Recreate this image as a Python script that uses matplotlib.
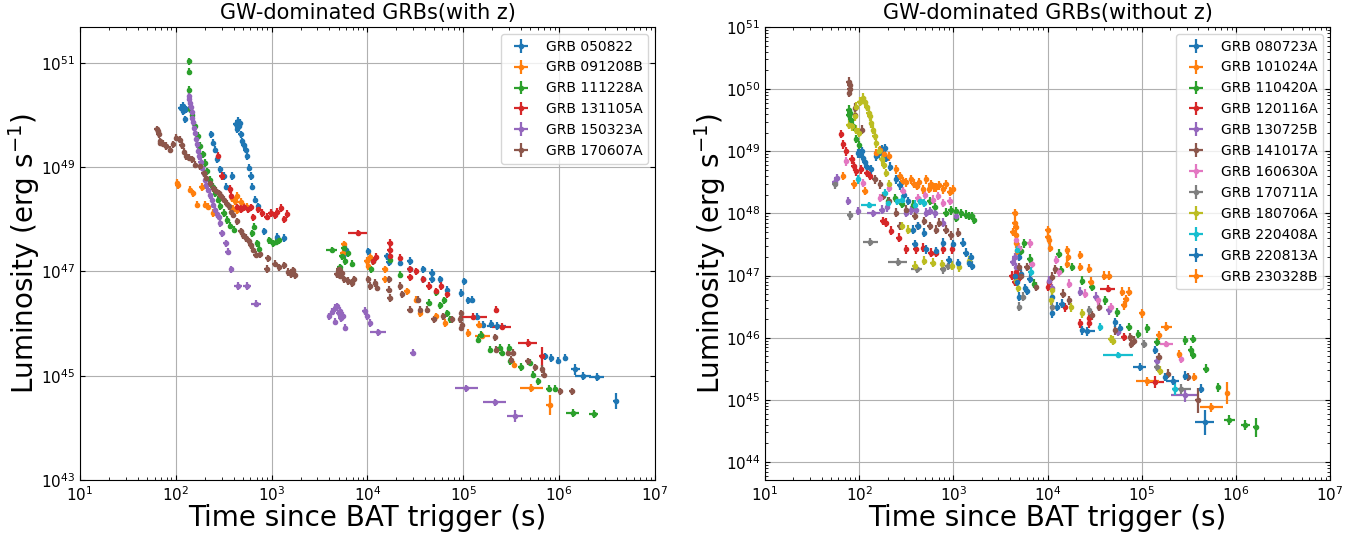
import numpy as np
import matplotlib
matplotlib.use('Agg')
import matplotlib.pyplot as plt
from matplotlib.ticker import LogLocator, NullLocator, NullFormatter

# values, stored as log10(t [s]) , log10(L [erg/s])
# pairs = dense points (small errors), wide = [logt, logL, dlogt, dlogL]

# ---------------- left panel: with z ----------------
grb050822 = [[2.05,50.14],[2.077,50.08],[2.106,50.11],[2.095,49.92],[2.08,50.18],
    [2.366,49.63],[2.387,49.47],[2.41,49.34],[2.43,49.15],[2.465,48.96],[2.50,48.83],[2.528,48.63],[2.588,48.83],
    [2.623,49.82],[2.64,49.73],[2.658,49.79],[2.645,49.89],[2.665,49.85],[2.676,49.63],[2.694,49.50],[2.71,49.42],
    [2.73,49.34],[2.746,49.21],[2.764,48.99],[2.78,48.83],[2.80,48.63],[2.83,48.38],[2.86,48.25],[2.92,47.77],
    [3.06,47.67],[3.13,47.64],
    [3.75,47.33],[3.78,47.42],[4.01,47.39],[4.20,47.29],[4.22,47.18],[4.34,47.17],[4.44,47.20],[4.44,47.04],
    [4.58,47.04],[4.58,46.85],[4.67,46.97],[4.67,46.85],[4.76,46.85],[4.83,46.65],[5.01,46.81],[4.98,46.59],
    [5.05,46.45],[5.09,46.46],[5.14,46.13],[5.21,45.98],[5.29,45.99],[5.85,45.37],[5.92,45.34],[5.99,45.29],[6.06,45.35]]
grb050822_wide = [[5.35,45.96,0.10,0.08],[6.17,45.12,0.05,0.10],[6.25,44.99,0.08,0.08],
    [6.39,44.98,0.08,0.08],[6.59,44.51,0.03,0.15]]

grb091208B = [[2.014,48.70],[2.02,48.65],[2.148,48.57],[2.18,48.50],[2.27,48.62],[2.225,48.28],[2.306,48.28],
    [2.34,48.24],[2.39,48.12],[2.588,48.41],[2.62,48.35],[2.676,48.34],[2.64,48.45],[2.71,48.24],[2.746,48.24],
    [2.64,48.18],[2.60,48.20],
    [3.75,47.52],[3.74,47.35],[3.99,47.20],[4.01,47.10],[4.03,47.28],[4.18,47.04],[4.18,46.85],[4.41,46.62],
    [4.51,46.46],[4.55,46.20],[4.72,46.14],[4.81,46.01],[5.05,45.82],[5.16,45.98],[5.53,45.21]]
grb091208B_wide = [[5.20,45.77,0.08,0.07],[5.71,44.76,0.12,0.08],[5.90,44.44,0.04,0.20]]

grb111228A = [[2.137,51.03],[2.137,50.83],[2.137,50.48],
    [2.15,50.11],[2.17,50.0],[2.20,49.79],[2.23,49.6],[2.254,49.41],[2.28,49.25],[2.306,49.08],[2.33,48.92],
    [2.36,48.76],[2.385,48.63],[2.41,48.50],[2.44,48.38],[2.465,48.25],[2.50,48.12],[2.535,47.99],[2.57,47.88],
    [2.606,47.80],
    [2.80,47.73],[2.817,47.86],[2.85,47.54],[2.87,47.44],[2.975,47.60],[3.01,47.54],[3.046,47.57],[3.08,47.60],
    [3.71,47.08],[3.73,47.30],[3.75,47.45],[3.77,47.20],[3.80,47.35],[3.84,47.15],[4.04,47.04],[4.06,47.20],
    [4.24,47.23],[4.34,46.94],[4.64,46.40],[4.72,46.60],[4.76,46.35],[4.80,46.45],[4.83,46.20],[4.86,46.08],
    [5.158,45.69],[5.18,45.79],[5.28,45.50],[5.38,45.54],[5.40,45.44],[5.48,45.53],[5.49,45.28],[5.60,45.17],
    [5.70,45.25],[5.73,45.02],[5.78,44.89],[5.89,44.75],[5.96,44.75]]
grb111228A_wide = [[3.627,47.41,0.06,0.06],[6.14,44.29,0.07,0.08],[6.36,44.26,0.05,0.08]]

grb131105A = [[2.444,49.22],[2.48,48.83],[2.566,48.58],[2.58,48.45],[2.64,48.23],[2.68,48.20],[2.71,48.23],
    [2.75,48.20],[2.78,48.23],[2.81,48.04],[2.86,48.20],[2.90,48.12],[2.95,48.05],[2.99,48.12],[3.03,48.08],
    [3.06,48.15],[3.10,48.22],[3.13,48.0],[3.16,48.10],
    [4.06,47.20],[4.09,47.28],[4.23,47.55],[4.23,47.42],[4.24,47.30],[4.34,47.26],[4.44,47.04],[4.44,46.89],
    [4.51,47.0],[4.58,46.85],[4.64,46.72],[4.72,46.62],[4.77,46.72],[4.83,46.56],[5.34,46.27]]
grb131105A_wide = [[3.90,47.74,0.10,0.06],[5.10,46.13,0.15,0.07],[5.40,45.94,0.10,0.07],
    [5.67,45.63,0.10,0.07],[5.82,45.37,0.03,0.18]]

grb150323A = [[2.137,50.37],[2.142,50.30],[2.148,50.24],[2.155,50.15],[2.165,50.05],[2.17,49.95],[2.18,49.86],
    [2.19,49.76],[2.20,49.66],[2.21,49.55],[2.22,49.44],[2.235,49.32],[2.246,49.21],[2.26,49.10],[2.27,48.99],
    [2.29,48.88],[2.306,48.76],[2.32,48.66],[2.34,48.57],[2.36,48.47],[2.377,48.38],[2.39,48.28],[2.41,48.18],
    [2.43,48.10],[2.447,48.05],[2.465,47.93],[2.48,47.73],[2.52,47.54],[2.54,47.38],[2.58,47.04],
    [3.60,46.14],[3.63,46.23],[3.66,46.30],[3.68,46.33],[3.70,46.20],[3.71,46.24],[3.66,46.04],[3.72,46.10],
    [3.74,46.15],[3.77,45.92],[3.97,46.24],[4.0,46.14],[4.03,46.01],[4.47,45.44]]
grb150323A_wide = [[2.648,46.72,0.04,0.07],[2.746,46.72,0.04,0.07],[2.835,46.38,0.05,0.07],
    [4.11,45.83,0.08,0.06],[5.03,44.76,0.12,0.07],[5.33,44.49,0.12,0.07],[5.54,44.23,0.08,0.12]]

grb170607A = [[1.80,49.73],[1.817,49.70],[1.82,49.63],[1.835,49.47],[1.84,49.50],[1.87,49.45],[1.90,49.41],
    [1.94,49.34],[1.97,49.44],[2.007,49.57],[2.04,49.53],[2.06,49.42],[2.09,49.30],[2.11,49.21],[2.14,49.18],
    [2.165,49.15],[2.20,49.05],[2.25,49.02],[2.29,48.89],[2.32,48.79],[2.36,48.70],[2.39,48.60],[2.42,48.55],
    [2.447,48.50],[2.47,48.45],[2.50,48.38],[2.53,48.30],[2.55,48.25],[2.58,48.15],[2.60,48.09],[2.64,47.96],
    [2.676,47.77],[2.70,47.70],[2.73,47.64],[2.76,47.58],[2.78,47.51],[2.81,47.42],[2.835,47.32],[2.88,47.33],
    [2.96,47.25],[2.95,47.05],[3.03,47.15],[3.08,47.08],[3.13,47.12],[3.17,46.99],[3.22,47.02],[3.24,46.93],
    [3.20,46.95],
    [3.68,46.95],[3.70,47.04],[3.71,46.92],[3.73,46.98],[3.76,46.85],[3.80,46.82],[3.84,46.78],[3.86,46.85],
    [4.01,46.85],[4.03,46.72],[4.08,46.78],[4.10,46.69],[4.22,46.85],[4.22,46.65],[4.23,46.49],[4.34,46.72],
    [4.36,46.56],[4.44,46.27],[4.53,46.46],[4.55,46.27],[4.62,46.27],[4.69,46.08],[4.79,46.14],[4.88,46.08],
    [4.97,46.08],[4.98,45.92],[4.98,46.20],[4.99,45.97],[5.33,45.74],[5.34,45.50],[5.47,45.44],[5.52,45.44],
    [5.50,45.30],[5.67,45.28],[5.75,45.16],[5.82,45.13],[5.84,45.02],[6.01,44.70],[6.13,44.70]]
grb170607A_wide = []

names_z = ['GRB 050822', 'GRB 091208B', 'GRB 111228A', 'GRB 131105A', 'GRB 150323A', 'GRB 170607A']
data_z = [(grb050822, grb050822_wide), (grb091208B, grb091208B_wide), (grb111228A, grb111228A_wide),
          (grb131105A, grb131105A_wide), (grb150323A, grb150323A_wide), (grb170607A, grb170607A_wide)]

# ---------------- right panel: without z ----------------
grb080723A = [[1.99,48.97],[2.01,48.96],[2.025,49.0],[2.04,48.89],[2.06,48.82],[2.08,48.75],[2.13,48.71],
    [2.18,48.92],[2.21,48.97],[2.24,49.03],[2.27,49.05],[2.29,48.90],[2.33,48.75],[2.39,48.55],[2.43,48.45],
    [2.48,48.30],[2.52,48.20],
    [3.70,47.30],[3.72,47.03],[3.70,46.66],[3.76,46.80],[3.81,46.95],[4.05,46.66],[4.05,46.39],[4.10,46.50],[4.37,46.12]]
grb080723A_wide = [[4.42,46.10,0.08,0.07]]

grb101024A = [[1.83,48.60],[1.94,48.47],[2.06,48.36],[2.18,48.97],[2.22,49.02],[2.26,48.95],[2.32,48.92],
    [2.39,48.71],[2.43,48.60],[2.46,48.52],[2.50,48.50],[2.55,48.55],[2.58,48.48],[2.61,48.44],[2.64,48.50],
    [2.68,48.39],[2.71,48.55],[2.74,48.40],[2.76,48.47],[2.79,48.42],[2.82,48.42],[2.85,48.45],[2.89,48.39],
    [2.92,48.47],[2.96,48.35],[3.0,48.39],
    [3.63,47.70],[3.65,48.0],[3.65,47.85],[3.66,47.78],[3.67,47.52],[3.67,47.65],[3.68,47.40]]
grb101024A_wide = []

grb110420A = [[1.89,49.67],[1.89,49.58],[1.90,49.61],[1.91,49.50],[1.93,49.40],[1.97,49.20],[2.0,49.10],
    [2.31,48.20],[2.38,48.25],[2.45,48.15],[2.57,48.14],[2.65,48.20],[2.75,48.20],[2.80,48.10],[2.92,48.01],
    [2.97,48.05],[3.03,48.04],[3.03,47.93],[3.08,48.0],[3.13,47.98],[3.17,47.96],[3.20,47.96],[3.22,47.90],
    [3.75,47.52],[3.72,47.40],[3.81,47.27],[3.86,46.87],[4.12,47.35],[4.14,47.09],[4.26,47.14],[4.37,46.92],
    [4.47,46.82],[4.61,46.60],[4.74,46.41],[4.86,46.17],[4.96,46.06],[5.06,46.15],[5.16,45.93],[5.46,45.96],
    [5.54,45.98],[5.54,45.72],[5.52,45.80],[5.68,45.50],[5.81,45.20]]
grb110420A_wide = [[5.93,44.67,0.06,0.08],[6.10,44.59,0.05,0.08],[6.21,44.56,0.03,0.15]]

grb120116A = [[1.81,49.28],[1.83,49.11],[1.86,49.0],[1.92,48.87],[1.94,48.76],[1.97,48.68],[2.02,48.71],
    [2.08,48.65],[2.12,48.60],[2.25,47.88],[2.29,47.85],[2.34,47.72],[2.42,47.61],[2.50,47.42],[2.60,47.42],
    [2.68,47.45],[2.76,47.37],[2.82,47.37],[2.89,47.42],[2.99,47.42],
    [3.62,47.0],[3.65,46.90],[3.67,47.05],[3.69,46.95],[4.01,46.82],[4.02,46.90],[4.19,46.49],[4.35,46.23],
    [4.44,46.23],[4.44,46.31],[4.81,46.01]]
grb120116A_wide = [[4.64,46.79,0.08,0.06],[5.14,45.29,0.10,0.10]]

grb130725B = [[1.76,48.57],[1.74,48.50],[1.88,48.20],[1.99,48.04],[2.24,48.06],[2.30,48.10],[2.50,48.01],
    [2.55,48.05],[2.60,48.06],[2.71,48.01],[2.75,48.04],[2.80,48.0],[2.89,47.85],[3.03,47.96],
    [3.63,47.22],[3.67,47.14],[3.65,47.30],[4.02,46.92],[4.05,46.80],[4.35,46.74],[4.51,46.66],[4.55,46.50],
    [4.65,46.44],[4.75,46.09],[5.16,45.63]]
grb130725B_wide = [[2.15,48.0,0.07,0.05],[5.46,45.07,0.15,0.10]]

grb141017A = [[1.89,50.12],[1.90,50.07],[1.894,49.94],[1.90,50.0],[1.954,49.59],[1.96,49.70],[2.025,49.35],
    [2.165,48.55],[2.22,48.47],[2.25,48.28],[2.32,48.20],[2.39,48.01],[2.43,47.80],[2.50,48.06],[2.59,47.96],
    [2.62,47.80],[2.69,47.88],[2.75,47.80],[2.82,47.74],[2.85,47.85],[2.92,47.74],[2.97,47.65],[3.05,47.69],
    [3.70,47.14],[3.72,47.0],[3.78,47.14],[3.88,46.82],[4.05,46.98],[4.08,47.10],[4.16,46.71],[4.23,46.60],
    [4.47,46.36],[4.55,46.50],[4.72,46.12],[4.88,46.01],[4.89,45.90],[4.92,45.95],[5.18,45.69],[5.28,45.42],
    [5.49,45.37]]
grb141017A_wide = [[5.60,44.99,0.03,0.20]]

grb160630A = [[1.86,48.84],[2.04,48.49],[2.22,48.25],[2.32,48.41],[2.46,48.36],[2.62,48.25],[2.70,48.30],
    [2.78,48.22],[2.84,48.28],[2.89,48.17],[2.96,48.20],
    [3.67,47.57],[3.70,47.45],[3.81,47.52],[3.83,47.19],[4.09,47.25],[4.12,47.05],[4.23,46.87],[4.40,46.71],
    [4.54,46.60],[4.67,46.49],[5.42,45.66]]
grb160630A_wide = [[5.26,45.90,0.07,0.05]]

grb170711A = [[1.74,48.47],[1.90,47.97],[3.74,46.66],[3.70,46.50],[4.05,46.50],[4.44,46.44],[5.02,45.90],[5.16,45.53]]
grb170711A_wide = [[2.12,47.54,0.08,0.07],[2.41,47.22,0.10,0.06],[2.61,47.10,0.06,0.06],
    [2.89,47.10,0.03,0.07],[2.94,47.15,0.03,0.06],[5.42,45.18,0.10,0.08]]

grb180706A = [[1.89,49.43],[1.92,49.40],[1.955,49.56],[1.97,49.72],[2.007,49.80],[2.04,49.86],[2.06,49.80],
    [2.08,49.72],[2.10,49.62],[2.11,49.56],[2.13,49.45],[2.15,49.35],[2.165,49.25],[2.18,49.13],[2.21,49.0],
    [2.24,48.87],[2.26,48.78],[2.29,48.65],[2.32,48.47],[1.97,49.35],[2.0,49.30],
    [2.45,47.80],[2.52,47.74],[2.59,47.16],[2.69,47.24],[2.78,47.21],[2.88,47.18],[2.99,47.16],[3.06,47.13],
    [3.17,47.24],
    [3.67,46.92],[3.69,46.80],[4.05,46.76],[4.04,46.60],[4.25,46.49],[4.37,46.39],[4.67,45.98],[4.70,45.95],[5.19,45.47]]
grb180706A_wide = []

grb220408A = [[1.99,48.55],[2.27,48.33],[2.31,48.17],[2.40,48.20],[2.45,48.22],[2.59,48.14],[2.65,48.20],
    [2.69,48.17],[3.68,47.41],[3.82,47.06],[4.56,46.17]]
grb220408A_wide = [[2.10,48.13,0.08,0.05],[4.75,45.72,0.16,0.05],[5.35,45.18,0.03,0.10]]

grb220813A = [[2.57,47.74],[2.62,47.80],[2.69,47.69],[2.59,47.50],[2.71,47.42],[2.82,47.39],[2.89,47.53],
    [3.0,47.50],[3.10,47.53],[3.13,47.37],[3.17,47.21],[3.20,47.16],[3.19,47.30],[3.05,47.20],[2.95,47.25],
    [3.68,46.90],[3.65,47.0],[3.78,46.75],[4.15,46.55],[4.72,46.25],[4.77,46.15],[5.14,45.80],[5.25,45.37],
    [5.46,45.39],[5.63,45.18]]
grb220813A_wide = [[4.98,45.53,0.07,0.07],[5.33,45.31,0.07,0.07],[5.67,44.64,0.10,0.20]]

grb230328B = [[4.0,47.73],[4.0,47.62],[4.02,47.57],[4.03,47.45],[4.21,47.41],[4.21,47.19],[4.22,47.30],
    [4.35,47.33],[4.35,47.14],[4.44,47.11],[4.46,46.90],[4.60,47.0],[4.65,47.0],[4.79,46.74],[4.86,46.74],
    [4.81,46.52],[4.83,46.62],[5.0,46.39],[5.18,46.04],[5.40,45.74],[5.56,45.37]]
grb230328B_wide = [[5.26,46.18,0.06,0.07],[5.06,45.30,0.12,0.07],[5.74,44.88,0.12,0.07],[5.91,45.11,0.03,0.18]]

names_noz = ['GRB 080723A', 'GRB 101024A', 'GRB 110420A', 'GRB 120116A', 'GRB 130725B', 'GRB 141017A',
             'GRB 160630A', 'GRB 170711A', 'GRB 180706A', 'GRB 220408A', 'GRB 220813A', 'GRB 230328B']
data_noz = [(grb080723A, grb080723A_wide), (grb101024A, grb101024A_wide), (grb110420A, grb110420A_wide),
            (grb120116A, grb120116A_wide), (grb130725B, grb130725B_wide), (grb141017A, grb141017A_wide),
            (grb160630A, grb160630A_wide), (grb170711A, grb170711A_wide), (grb180706A, grb180706A_wide),
            (grb220408A, grb220408A_wide), (grb220813A, grb220813A_wide), (grb230328B, grb230328B_wide)]

colors = plt.rcParams['axes.prop_cycle'].by_key()['color']


def plot_grb(ax, pts, wide, name, color):
    pts = np.array(pts, dtype=float).reshape(-1, 2)
    wide = np.array(wide, dtype=float).reshape(-1, 4)
    lt = np.concatenate([pts[:, 0], wide[:, 0]])
    lL = np.concatenate([pts[:, 1], wide[:, 1]])
    dt = np.concatenate([np.full(len(pts), 0.025), wide[:, 2]])
    dL = np.concatenate([np.full(len(pts), 0.07), wide[:, 3]])
    t = 10**lt
    L = 10**lL
    xerr = [t - 10**(lt - dt), 10**(lt + dt) - t]
    yerr = [L - 10**(lL - dL), 10**(lL + dL) - L]
    ax.errorbar(t, L, xerr=xerr, yerr=yerr, fmt='o', ms=3, color=color,
                elinewidth=1.6, capsize=0, label=name)


fig = plt.figure(figsize=(13.72, 5.38), dpi=100)
ax1 = fig.add_axes([0.0583, 0.1078, 0.4191, 0.8420])
ax2 = fig.add_axes([0.5576, 0.1078, 0.4118, 0.8420])

for i, (d, n) in enumerate(zip(data_z, names_z)):
    plot_grb(ax1, d[0], d[1], n, colors[i % 10])
for i, (d, n) in enumerate(zip(data_noz, names_noz)):
    plot_grb(ax2, d[0], d[1], n, colors[i % 10])

for ax in (ax1, ax2):
    ax.set_xscale('log')
    ax.set_yscale('log')
    ax.set_xlim(10, 1e7)
    ax.xaxis.set_major_locator(LogLocator(base=10, numticks=20))
    ax.xaxis.set_minor_locator(LogLocator(base=10, subs=np.arange(2, 10), numticks=20))
    ax.xaxis.set_minor_formatter(NullFormatter())
    ax.grid(True, which='major', color='#b0b0b0', lw=0.8)
    ax.tick_params(which='both', direction='in', top=True, right=True, labelsize=11)
    ax.set_xlabel('Time since BAT trigger (s)', fontsize=20, labelpad=0.5)
    ax.set_ylabel('Luminosity (erg s$^{-1}$)', fontsize=20)
    ax.yaxis.set_label_coords(-0.066, 0.5)
    ax.legend(loc='upper right', fontsize=10)

ax1.set_ylim(1e43, 10**51.69)
ax1.set_yticks([1e43, 1e45, 1e47, 1e49, 1e51])
ax1.yaxis.set_minor_locator(NullLocator())
ax1.set_title('GW-dominated GRBs(with z)', fontsize=15)

ax2.set_ylim(10**43.71, 1e51)
ax2.yaxis.set_major_locator(LogLocator(base=10, numticks=20))
ax2.yaxis.set_minor_locator(LogLocator(base=10, subs=np.arange(2, 10), numticks=20))
ax2.yaxis.set_minor_formatter(NullFormatter())
ax2.set_title('GW-dominated GRBs(without z)', fontsize=15)

fig.savefig('out.png', dpi=100)
